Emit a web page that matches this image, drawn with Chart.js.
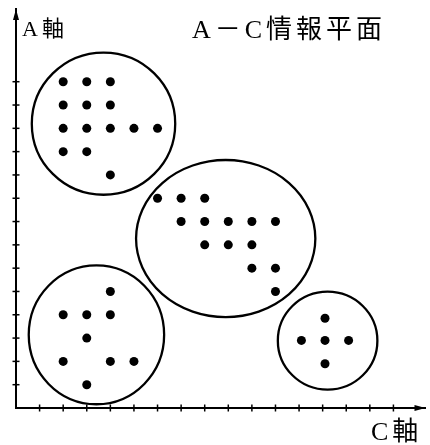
<!DOCTYPE html>
<html>
<head>
<meta charset="utf-8">
<script src="https://cdn.jsdelivr.net/npm/chart.js@4/dist/chart.umd.min.js"></script>
<style>
  html, body { margin: 0; padding: 0; background: #fff; }
  #wrap { width: 430px; height: 445px; }
</style>
</head>
<body>
<div id="wrap"><canvas id="chart" width="430" height="445"></canvas></div>
<script>
// dots of each group, [C, A] in tick units
const groupTopLeft = [[2,14],[3,14],[4,14],[2,13],[3,13],[4,13],[2,12],[3,12],[4,12],[5,12],[6,12],[2,11],[3,11],[4,10]];
const groupMiddle = [[6,9],[7,9],[8,9],[7,8],[8,8],[9,8],[10,8],[11,8],[8,7],[9,7],[10,7],[10,6],[11,6],[11,5]];
const groupBottomLeft = [[4,5],[2,4],[3,4],[4,4],[3,3],[2,2],[4,2],[5,2],[3,1]];
const groupBottomRight = [[13.1,3.85],[12.1,2.9],[13.1,2.9],[14.1,2.9],[13.1,1.9]];

// enclosing ellipses (centre and radii in the same units)
const ringCx = [3.71, 8.89, 3.41, 13.21];
const ringCy = [12.2, 7.27, 3.14, 2.89];
const ringRx = [3.04, 3.8, 2.87, 2.11];
const ringRy = [3.05, 3.37, 2.98, 2.1];

const xTicks = [1,2,3,4,5,6,7,8,9,10,11,12,13,14,15,16];
const yTicks = [1,2,3,4,5,6,7,8,9,10,11,12,13,14];

const toPoints = arr => arr.map(p => ({ x: p[0], y: p[1] }));

const overlay = {
    id: 'overlay',
    beforeDatasetsDraw(chart) {
        const { ctx, scales: { x, y } } = chart;
        ctx.save();
        ctx.strokeStyle = '#000';
        ctx.lineWidth = 2.3;
        ringCx.forEach((cx, i) => {
            const px = x.getPixelForValue(cx);
            const py = y.getPixelForValue(ringCy[i]);
            const rx = x.getPixelForValue(cx + ringRx[i]) - px;
            const ry = py - y.getPixelForValue(ringCy[i] + ringRy[i]);
            ctx.beginPath();
            ctx.ellipse(px, py, rx, ry, 0, 0, Math.PI * 2);
            ctx.stroke();
        });
        ctx.restore();
    },
    afterDraw(chart) {
        const { ctx, chartArea, scales: { x, y } } = chart;
        const x0 = chartArea.left, y0 = chartArea.bottom;
        ctx.save();
        ctx.strokeStyle = '#000';
        ctx.fillStyle = '#000';
        ctx.lineWidth = 1.5;
        // crossing tick marks
        xTicks.forEach(v => {
            const px = x.getPixelForValue(v);
            ctx.beginPath();
            ctx.moveTo(px, y0 - 3.5);
            ctx.lineTo(px, y0 + 3.5);
            ctx.stroke();
        });
        yTicks.forEach(v => {
            const py = y.getPixelForValue(v);
            ctx.beginPath();
            ctx.moveTo(x0 - 3.5, py);
            ctx.lineTo(x0 + 3.5, py);
            ctx.stroke();
        });
        // arrow heads
        ctx.beginPath();
        ctx.moveTo(chartArea.right, y0);
        ctx.lineTo(chartArea.right - 11, y0 - 3);
        ctx.lineTo(chartArea.right - 11, y0 + 3);
        ctx.closePath();
        ctx.fill();
        ctx.beginPath();
        ctx.moveTo(x0, chartArea.top);
        ctx.lineTo(x0 - 3, chartArea.top + 11);
        ctx.lineTo(x0 + 3, chartArea.top + 11);
        ctx.closePath();
        ctx.fill();
        // labels
        ctx.textBaseline = 'alphabetic';
        ctx.letterSpacing = '4px';
        ctx.font = '22px "Liberation Serif", "Noto Sans CJK JP", serif';
        ctx.fillText('A軸', 22, 36);
        ctx.font = '26px "Liberation Serif", "Noto Sans CJK JP", serif';
        ctx.fillText('A－C情報平面', 192, 38);
        ctx.fillText('C軸', 371, 440);
        ctx.restore();
    }
};

const dotStyle = {
    backgroundColor: '#000',
    borderColor: '#000',
    pointRadius: 4.5,
    pointHoverRadius: 4.5,
    borderWidth: 0
};

new Chart(document.getElementById('chart'), {
    type: 'scatter',
    data: {
        datasets: [
            { label: 'group 1', data: toPoints(groupTopLeft), ...dotStyle },
            { label: 'group 2', data: toPoints(groupMiddle), ...dotStyle },
            { label: 'group 3', data: toPoints(groupBottomLeft), ...dotStyle },
            { label: 'group 4', data: toPoints(groupBottomRight), ...dotStyle }
        ]
    },
    options: {
        responsive: false,
        animation: false,
        devicePixelRatio: 1,
        layout: { padding: { left: 16, top: 9, right: 3, bottom: 37 } },
        plugins: {
            legend: { display: false },
            tooltip: { enabled: false },
            title: { display: false }
        },
        scales: {
            x: {
                type: 'linear',
                min: 0,
                max: 17.36,
                ticks: { display: false },
                grid: { display: false, drawTicks: false },
                border: { display: true, color: '#000', width: 2 }
            },
            y: {
                type: 'linear',
                min: 0,
                max: 17.12,
                ticks: { display: false },
                grid: { display: false, drawTicks: false },
                border: { display: true, color: '#000', width: 2 }
            }
        }
    },
    plugins: [overlay]
});
</script>
</body>
</html>
